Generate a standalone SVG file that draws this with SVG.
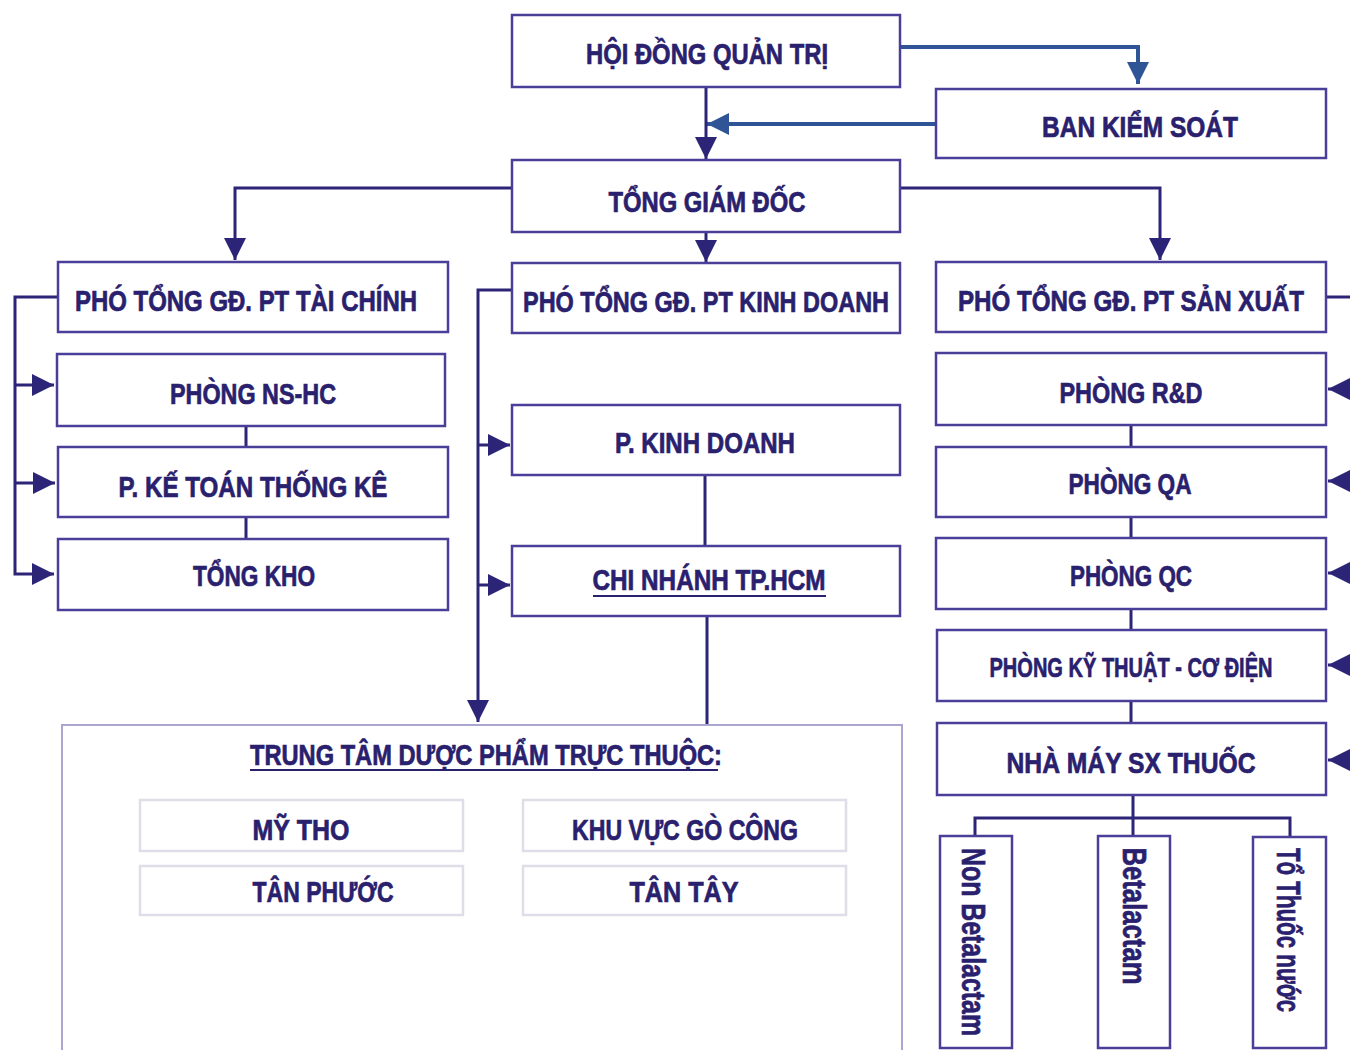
<svg xmlns="http://www.w3.org/2000/svg" width="1350" height="1050" viewBox="0 0 1350 1050">
<defs>
<style>
.box{fill:#fff;stroke:#4a3f98;stroke-width:2.5}
.big{fill:#fff;stroke:#aaa6d0;stroke-width:2}
.sub{fill:#fff;stroke:#dedde8;stroke-width:2.5}
.t{font-family:"Liberation Sans","DejaVu Sans",sans-serif;font-weight:bold;font-size:30px;fill:#29206e;stroke:#29206e;stroke-width:0.7;text-anchor:middle}
.s{font-size:28px}
.v{font-size:34px}
.ln{fill:none;stroke:#2c2577;stroke-width:3}
.bl{fill:none;stroke:#2f5597;stroke-width:4}
.ul{stroke:#29206e;stroke-width:2}
</style>
<marker id="a" markerUnits="userSpaceOnUse" markerWidth="22" markerHeight="22" refX="22" refY="11" orient="auto" viewBox="0 0 22 22"><path d="M0,0 L22,11 L0,22 z" fill="#2c2577"/></marker>
<marker id="b" markerUnits="userSpaceOnUse" markerWidth="22" markerHeight="22" refX="22" refY="11" orient="auto" viewBox="0 0 22 22"><path d="M0,0 L22,11 L0,22 z" fill="#2f5597"/></marker>
</defs>
<rect width="1350" height="1050" fill="#fff"/>

<g id="connectors">
<path class="bl" d="M900,47 H1138 V84" marker-end="url(#b)"/>
<path class="bl" d="M936,124 H707" marker-end="url(#b)"/>
<path class="ln" d="M706,87 V159" marker-end="url(#a)"/>
<path class="ln" d="M512,188 H235 V260" marker-end="url(#a)"/>
<path class="ln" d="M900,188 H1160 V260" marker-end="url(#a)"/>
<path class="ln" d="M706,232 V262" marker-end="url(#a)"/>
<path class="ln" d="M58,297 H15 V574 H54" marker-end="url(#a)"/>
<path class="ln" d="M15,385 H54" marker-end="url(#a)"/>
<path class="ln" d="M15,483 H55" marker-end="url(#a)"/>
<path class="ln" d="M246,426 V447 M246,517 V539"/>
<path class="ln" d="M512,290 H478 V722" marker-end="url(#a)"/>
<path class="ln" d="M478,445 H510" marker-end="url(#a)"/>
<path class="ln" d="M478,585 H510" marker-end="url(#a)"/>
<path class="ln" d="M705,475 V546 M707,616 V725"/>
<path class="ln" d="M1326,297 H1352"/>
<path class="ln" d="M1352,389 H1328" marker-end="url(#a)"/>
<path class="ln" d="M1352,481 H1328" marker-end="url(#a)"/>
<path class="ln" d="M1352,573 H1328" marker-end="url(#a)"/>
<path class="ln" d="M1352,665 H1328" marker-end="url(#a)"/>
<path class="ln" d="M1352,760 H1328" marker-end="url(#a)"/>
<path class="ln" d="M1131,425 V447 M1131,517 V538 M1131,609 V630 M1131,701 V723"/>
<path class="ln" d="M1133,795 V836 M975,837 V818 H1290 V837"/>
</g>

<g id="n-hdqt"><rect class="box" x="512" y="15" width="388" height="72"/><text class="t" x="707" y="64" textLength="242" lengthAdjust="spacingAndGlyphs">HỘI ĐỒNG QUẢN TRỊ</text></g>
<g id="n-bks"><rect class="box" x="936" y="89" width="390" height="69"/><text class="t" x="1140" y="137" textLength="196" lengthAdjust="spacingAndGlyphs">BAN KIỂM SOÁT</text></g>
<g id="n-tgd"><rect class="box" x="512" y="160" width="388" height="72"/><text class="t" x="707" y="212" textLength="197" lengthAdjust="spacingAndGlyphs">TỔNG GIÁM ĐỐC</text></g>

<g id="n-pt-tc"><rect class="box" x="58" y="262" width="390" height="70"/><text class="t" x="246" y="311" textLength="342" lengthAdjust="spacingAndGlyphs">PHÓ TỔNG GĐ. PT TÀI CHÍNH</text></g>
<g id="n-pt-kd"><rect class="box" x="512" y="263" width="388" height="70"/><text class="t" x="706" y="312" textLength="366" lengthAdjust="spacingAndGlyphs">PHÓ TỔNG GĐ. PT KINH DOANH</text></g>
<g id="n-pt-sx"><rect class="box" x="936" y="262" width="390" height="70"/><text class="t" x="1131" y="311" textLength="346" lengthAdjust="spacingAndGlyphs">PHÓ TỔNG GĐ. PT SẢN XUẤT</text></g>

<g id="n-nshc"><rect class="box" x="57" y="354" width="388" height="72"/><text class="t" x="253" y="404" textLength="166" lengthAdjust="spacingAndGlyphs">PHÒNG NS-HC</text></g>
<g id="n-ktk"><rect class="box" x="58" y="447" width="390" height="70"/><text class="t" x="253" y="497" textLength="269" lengthAdjust="spacingAndGlyphs">P. KẾ TOÁN THỐNG KÊ</text></g>
<g id="n-kho"><rect class="box" x="58" y="539" width="390" height="71"/><text class="t" x="254" y="586" textLength="122" lengthAdjust="spacingAndGlyphs">TỔNG KHO</text></g>

<g id="n-pkd"><rect class="box" x="512" y="405" width="388" height="70"/><text class="t" x="705" y="453" textLength="180" lengthAdjust="spacingAndGlyphs">P. KINH DOANH</text></g>
<g id="n-cn"><rect class="box" x="512" y="546" width="388" height="70"/><text class="t" x="709" y="590" textLength="233" lengthAdjust="spacingAndGlyphs">CHI NHÁNH TP.HCM</text><line class="ul" x1="593" y1="596" x2="826" y2="596"/></g>

<g id="n-rd"><rect class="box" x="936" y="353" width="390" height="72"/><text class="t" x="1131" y="403" textLength="143" lengthAdjust="spacingAndGlyphs">PHÒNG R&amp;D</text></g>
<g id="n-qa"><rect class="box" x="936" y="447" width="390" height="70"/><text class="t" x="1130" y="494" textLength="123" lengthAdjust="spacingAndGlyphs">PHÒNG QA</text></g>
<g id="n-qc"><rect class="box" x="936" y="538" width="390" height="71"/><text class="t" x="1131" y="586" textLength="122" lengthAdjust="spacingAndGlyphs">PHÒNG QC</text></g>
<g id="n-kt"><rect class="box" x="937" y="630" width="389" height="71"/><text class="t s" x="1131" y="677" textLength="283" lengthAdjust="spacingAndGlyphs">PHÒNG KỸ THUẬT - CƠ ĐIỆN</text></g>
<g id="n-nm"><rect class="box" x="937" y="723" width="389" height="72"/><text class="t" x="1131" y="773" textLength="249" lengthAdjust="spacingAndGlyphs">NHÀ MÁY SX THUỐC</text></g>

<g id="n-non"><rect class="box" x="940" y="836" width="72" height="212"/><text class="t v" transform="translate(962,942) rotate(90)" textLength="188" lengthAdjust="spacingAndGlyphs">Non Betalactam</text></g>
<g id="n-beta"><rect class="box" x="1098" y="836" width="72" height="212"/><text class="t v" transform="translate(1123,916) rotate(90)" textLength="137" lengthAdjust="spacingAndGlyphs">Betalactam</text></g>
<g id="n-nuoc"><rect class="box" x="1253" y="837" width="73" height="211"/><text class="t v" transform="translate(1277,930) rotate(90)" textLength="164" lengthAdjust="spacingAndGlyphs">Tổ Thuốc nước</text></g>

<g id="n-trungtam"><rect class="big" x="62" y="725" width="840" height="335"/><text class="t" x="486" y="765" textLength="472" lengthAdjust="spacingAndGlyphs">TRUNG TÂM DƯỢC PHẨM TRỰC THUỘC:</text><line class="ul" x1="250" y1="770" x2="718" y2="770"/></g>
<g id="n-mytho"><rect class="sub" x="140" y="800" width="323" height="51"/><text class="t" x="301" y="840" textLength="97" lengthAdjust="spacingAndGlyphs">MỸ THO</text></g>
<g id="n-gocong"><rect class="sub" x="523" y="800" width="323" height="51"/><text class="t" x="685" y="840" textLength="226" lengthAdjust="spacingAndGlyphs">KHU VỰC GÒ CÔNG</text></g>
<g id="n-tanphuoc"><rect class="sub" x="140" y="866" width="323" height="49"/><text class="t" x="323" y="902" textLength="141" lengthAdjust="spacingAndGlyphs">TÂN PHƯỚC</text></g>
<g id="n-tantay"><rect class="sub" x="523" y="866" width="323" height="49"/><text class="t" x="684" y="902" textLength="109" lengthAdjust="spacingAndGlyphs">TÂN TÂY</text></g>
</svg>
